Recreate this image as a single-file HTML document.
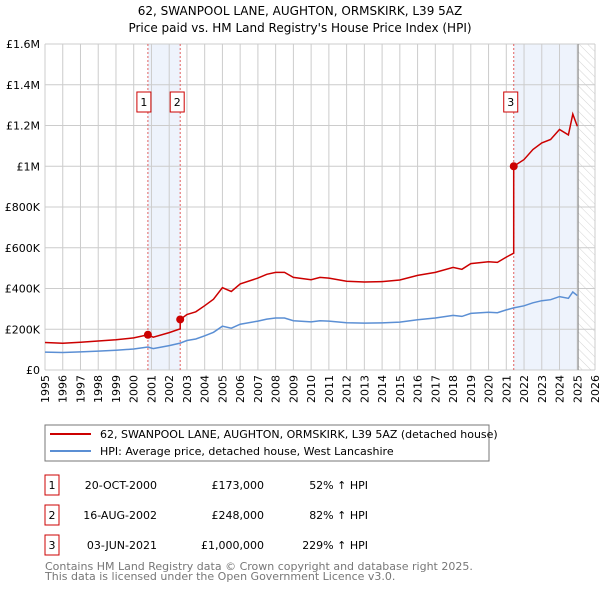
<!DOCTYPE html>
<html><head><meta charset="utf-8"><style>
body{margin:0;background:#fff;}
svg{font-family:"DejaVu Sans","Liberation Sans",sans-serif;}
</style></head><body>
<svg id="c" width="600" height="590" xmlns="http://www.w3.org/2000/svg">
<defs><pattern id="hatch" width="6" height="6" patternUnits="userSpaceOnUse" patternTransform="rotate(-45)"><line x1="0" y1="0" x2="0" y2="6" stroke="#d4d4d4" stroke-width="1"/></pattern></defs>
<text x="300" y="15" text-anchor="middle" font-size="12">62, SWANPOOL LANE, AUGHTON, ORMSKIRK, L39 5AZ</text>
<text x="300" y="32" text-anchor="middle" font-size="12">Price paid vs. HM Land Registry's House Price Index (HPI)</text>
<g id="plot"></g>
<rect x="45" y="425" width="444" height="36" fill="#fff" stroke="#777"/>
<line x1="50" y1="434" x2="91" y2="434" stroke="#cc0000" stroke-width="2"/>
<text x="100" y="438" font-size="11">62, SWANPOOL LANE, AUGHTON, ORMSKIRK, L39 5AZ (detached house)</text>
<line x1="50" y1="451" x2="91" y2="451" stroke="#5b8fd4" stroke-width="2"/>
<text x="100" y="455" font-size="11">HPI: Average price, detached house, West Lancashire</text>
<g id="tbl" font-size="11"></g>
<text x="45" y="570" font-size="11" fill="#777">Contains HM Land Registry data © Crown copyright and database right 2025.</text>
<text x="45" y="580" font-size="11" fill="#777">This data is licensed under the Open Government Licence v3.0.</text>
</svg>
<script>
const years=[1995,1996,1997,1998,1999,2000,2001,2002,2003,2004,2005,2006,2007,2008,2009,2010,2011,2012,2013,2014,2015,2016,2017,2018,2019,2020,2021,2022,2023,2024,2025,2026];
const yTicks=[0,200000,400000,600000,800000,1000000,1200000,1400000,1600000];
const yTickLabels=["£0","£200K","£400K","£600K","£800K","£1M","£1.2M","£1.4M","£1.6M"];
const hpiT=[1995,1996,1997,1998,1999,2000,2000.8,2001.1,2002,2002.62,2003,2003.5,2004,2004.5,2005,2005.5,2006,2007,2007.5,2008,2008.5,2009,2010,2010.5,2011,2012,2013,2014,2015,2016,2017,2018,2018.5,2019,2020,2020.5,2021,2021.42,2022,2022.5,2023,2023.5,2024,2024.5,2024.75,2025.0];
const hpiV=[88000,86000,89000,93000,97000,103000,113000,105000,120000,132000,145000,152000,168000,185000,215000,205000,225000,240000,250000,255000,255000,242000,236000,242000,240000,232000,230000,231000,235000,247000,255000,268000,263000,278000,283000,281000,295000,305000,315000,330000,340000,345000,360000,352000,383000,365000];
const saleT=[2000.8,2002.62,2021.42];
const saleP=[173000,248000,1000000];
const saleLabels=["1","2","3"];
const saleDates=["20-OCT-2000","16-AUG-2002","03-JUN-2021"];
const salePrices=["£173,000","£248,000","£1,000,000"];
const salePct=["52% ↑ HPI","82% ↑ HPI","229% ↑ HPI"];
const dataEnd=2025.05;

const L=45,R=595,T=44,B=370;
const X=t=>L+(t-1995)/(2026-1995)*(R-L);
const Y=v=>B-v/1600000*(B-T);
const NS="http://www.w3.org/2000/svg";
const g=document.getElementById('plot');
function mk(tag,attrs,parent){const e=document.createElementNS(NS,tag);for(const k in attrs)e.setAttribute(k,attrs[k]);(parent||g).appendChild(e);return e;}
function hpiAt(t){for(let i=0;i<hpiT.length-1;i++){if(t<=hpiT[i+1]){const f=(t-hpiT[i])/(hpiT[i+1]-hpiT[i]);return hpiV[i]+f*(hpiV[i+1]-hpiV[i]);}}return hpiV[hpiV.length-1];}

let s1=mk('rect',{x:X(saleT[0]),y:T,width:X(saleT[1])-X(saleT[0]),height:B-T,fill:'#eef3fc'});

let s3=mk('rect',{x:X(saleT[2]),y:T,width:X(dataEnd)-X(saleT[2]),height:B-T,fill:'#eef3fc'});

let hz=mk('rect',{x:X(dataEnd),y:T,width:R-X(dataEnd),height:B-T,fill:'url(#hatch)'});

years.forEach(y=>{let l=mk('line',{x1:X(y),x2:X(y),y1:T,y2:B,stroke:'#ccc','stroke-width':1});

let t=mk('text',{transform:`translate(${X(y)+4},${B+5}) rotate(-90)`,'text-anchor':'end','font-size':11});t.textContent=y;
});
yTicks.forEach((v,i)=>{let l=mk('line',{x1:L,x2:R,y1:Y(v),y2:Y(v),stroke:'#ccc','stroke-width':1});

let t=mk('text',{x:40,y:Y(v)+4,'text-anchor':'end','font-size':11});t.textContent=yTickLabels[i];
});
let el=mk('line',{x1:X(dataEnd),x2:X(dataEnd),y1:T,y2:B,stroke:'#888'});

const boxOff=[-4,-3,-3];
saleT.forEach((t,i)=>{let l=mk('line',{x1:X(t),x2:X(t),y1:T,y2:B,stroke:'#e06060','stroke-dasharray':'2,2'});

let r=mk('rect',{x:X(t)-7+boxOff[i],y:92,width:14,height:20,fill:'#fff',stroke:'#cc0000'});

let tx=mk('text',{x:+r.getAttribute('x')+7,y:106,'text-anchor':'middle','font-size':11});tx.textContent=saleLabels[i];
});
let hp=hpiT.map((t,i)=>X(t).toFixed(1)+','+Y(hpiV[i]).toFixed(1)).join(' ');
let hl=mk('polyline',{points:hp,fill:'none',stroke:'#5b8fd4','stroke-width':1.5});

function factorAt(t){let k=0;for(let i=0;i<saleT.length;i++)if(t>=saleT[i])k=i;return saleP[k]/hpiAt(saleT[k]);}
let pts=[];hpiT.forEach((t,i)=>{pts.push([t,hpiV[i]*factorAt(t)]);});
saleT.forEach((t,j)=>{const prev=j==0?saleP[0]/hpiAt(saleT[0]):saleP[j-1]/hpiAt(saleT[j-1]);pts.push([t-0.001,hpiAt(t)*prev]);pts.push([t,saleP[j]]);});
pts.sort((a,b)=>a[0]-b[0]);
let pl=mk('polyline',{points:pts.map(p=>X(p[0]).toFixed(1)+','+Y(p[1]).toFixed(1)).join(' '),fill:'none',stroke:'#cc0000','stroke-width':1.5});

saleT.forEach((t,i)=>{let c=mk('circle',{cx:X(t),cy:Y(saleP[i]),r:4,fill:'#cc0000'});
});
const tb=document.getElementById('tbl');
saleLabels.forEach((s,i)=>{const y=475+i*30;
let r=mk('rect',{x:45,y:y,width:14,height:20,fill:'#fff',stroke:'#cc0000'},tb);

let a=mk('text',{x:52,y:y+14,'text-anchor':'middle'},tb);a.textContent=s;

let d=mk('text',{x:157,y:y+14,'text-anchor':'end'},tb);d.textContent=saleDates[i];

let p=mk('text',{x:264,y:y+14,'text-anchor':'end'},tb);p.textContent=salePrices[i];

let q=mk('text',{x:368,y:y+14,'text-anchor':'end'},tb);q.textContent=salePct[i];
});
</script>
</body></html>
